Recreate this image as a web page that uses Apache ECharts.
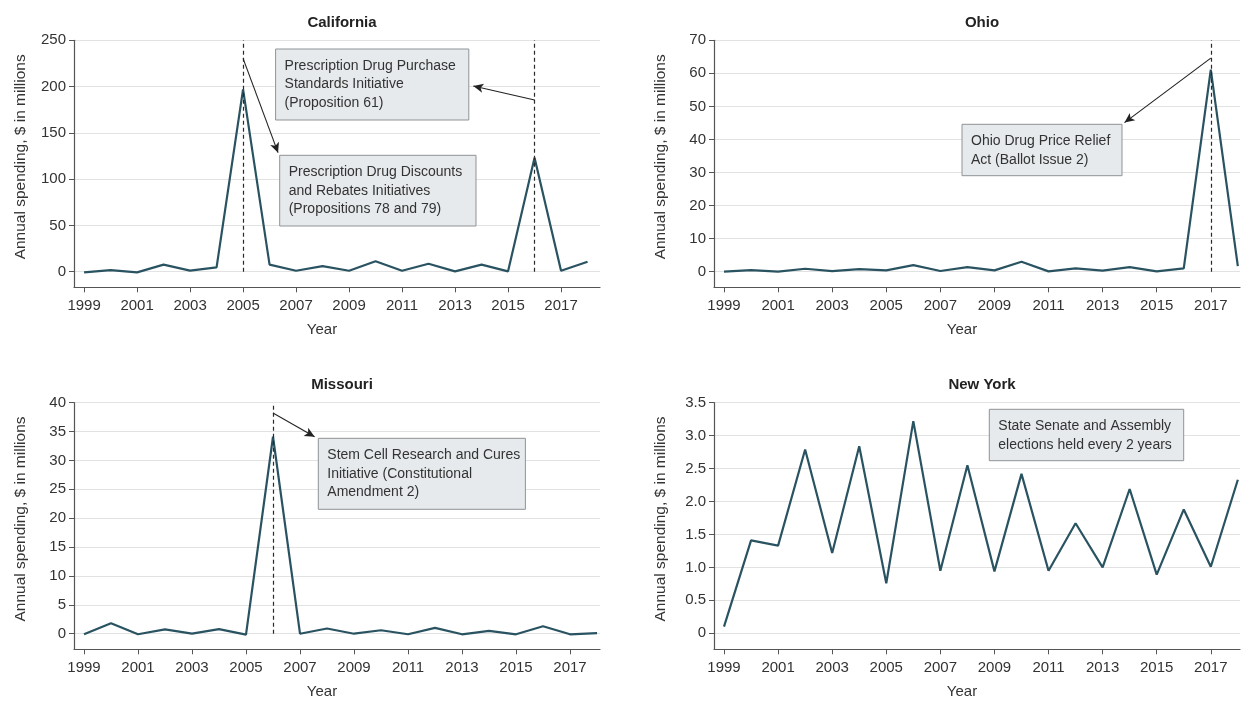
<!DOCTYPE html>
<html>
<head>
<meta charset="utf-8">
<script src="https://cdn.jsdelivr.net/npm/echarts@6.0.0/dist/echarts.min.js"></script>
<style>
  html, body { margin: 0; padding: 0; background: #fff; }
  #chart { width: 1248px; height: 702px; }
</style>
</head>
<body>
<div id="chart"></div>
<script>
// data
const years = [1999, 2000, 2001, 2002, 2003, 2004, 2005, 2006, 2007, 2008, 2009, 2010, 2011, 2012, 2013, 2014, 2015, 2016, 2017, 2018];
const yearTicks = [1999, 2001, 2003, 2005, 2007, 2009, 2011, 2013, 2015, 2017];

const californiaSpending = [-0.7, 1.8, -0.7, 7.6, 1.1, 4.7, 197, 7.6, 1.0, 6.1, 1.0, 11.2, 1.0, 8.6, 0.4, 7.6, 0.4, 123.2, 1.0, 10.8];
const ohioSpending = [0, 0.5, 0, 0.9, 0.2, 0.8, 0.4, 2.0, 0.2, 1.4, 0.4, 3.0, 0.1, 1.0, 0.3, 1.4, 0.1, 1.0, 61.1, 1.7];
const missouriSpending = [-0.1, 1.8, -0.1, 0.75, 0, 0.8, -0.15, 34.1, 0, 0.9, 0, 0.6, -0.1, 1.0, -0.1, 0.5, -0.1, 1.3, -0.1, 0.1];
const newYorkSpending = [0.1, 1.41, 1.33, 2.79, 1.22, 2.84, 0.76, 3.22, 0.95, 2.55, 0.94, 2.42, 0.95, 1.67, 1.0, 2.19, 0.89, 1.88, 1.01, 2.33];

const californiaTicks = [0, 50, 100, 150, 200, 250];
const ohioTicks = [0, 10, 20, 30, 40, 50, 60, 70];
const missouriTicks = [0, 5, 10, 15, 20, 25, 30, 35, 40];
const newYorkTicks = [0, 0.5, 1.0, 1.5, 2.0, 2.5, 3.0, 3.5];

// ballot years (dashed lines) and arrows [fromYear, fromValue, toYear, toValue]
const californiaBallots = [2005, 2016];
const ohioBallots = [2017];
const missouriBallots = [2006];
const californiaArrows = [[2005, 230.5, 2006.32, 128.6], [2016, 185.5, 2013.69, 200.6]];
const ohioArrows = [[2017, 64.6, 2013.81, 45.1]];
const missouriArrows = [[2006, 38.2, 2007.54, 34.1]];

const FONT = '"Liberation Sans", Arial, sans-serif';
const LINE_COLOR = '#2a5362';
const AXIS_COLOR = '#555';
const TEXT_COLOR = '#333';

const chart = echarts.init(document.getElementById('chart'));

const panels = [
    { title: 'California', left: 74, top: 40.3, height: 247, xMin: 1998.62, xMax: 2018.47, yMin: -16.85, yMax: 250, ticks: californiaTicks, values: californiaSpending, ballots: californiaBallots, arrows: californiaArrows, fmt: v => String(v) },
    { title: 'Ohio', left: 714, top: 40.3, height: 247, xMin: 1998.63, xMax: 2018.08, yMin: -4.72, yMax: 70, ticks: ohioTicks, values: ohioSpending, ballots: ohioBallots, arrows: ohioArrows, fmt: v => String(v) },
    { title: 'Missouri', left: 74, top: 402.7, height: 246.6, xMin: 1998.63, xMax: 2018.11, yMin: -2.7, yMax: 40, ticks: missouriTicks, values: missouriSpending, ballots: missouriBallots, arrows: missouriArrows, fmt: v => String(v) },
    { title: 'New York', left: 714, top: 402.7, height: 246.6, xMin: 1998.63, xMax: 2018.08, yMin: -0.243, yMax: 3.5, ticks: newYorkTicks, values: newYorkSpending, ballots: [], arrows: [], fmt: v => (v === 0 ? '0' : v.toFixed(1)) },
];

const grids = [], xAxes = [], yAxes = [], series = [], titles = [];

panels.forEach((p, i) => {
    grids.push({ left: p.left, top: p.top, width: 526, height: p.height });
    titles.push({
        text: p.title,
        left: p.left + 263,
        top: p.top - 30,
        textAlign: 'center',
        textStyle: { fontFamily: FONT, fontSize: 15, fontWeight: 'bold', color: '#222' },
    });
    xAxes.push({
        type: 'value',
        gridIndex: i,
        min: p.xMin,
        max: p.xMax,
        name: 'Year',
        nameLocation: 'middle',
        nameGap: 35,
        nameTextStyle: { fontFamily: FONT, fontSize: 15, color: TEXT_COLOR, padding: [0, 30, 0, 0] },
        axisLine: { show: true, onZero: false, lineStyle: { color: AXIS_COLOR, width: 1.2 } },
        axisTick: { show: true, length: 5, customValues: yearTicks, lineStyle: { color: AXIS_COLOR } },
        axisLabel: { customValues: yearTicks, margin: 11, fontFamily: FONT, fontSize: 15, color: TEXT_COLOR, formatter: v => String(v) },
        splitLine: { show: false },
    });
    yAxes.push({
        type: 'value',
        gridIndex: i,
        min: p.yMin,
        max: p.yMax,
        name: 'Annual spending, $ in millions',
        nameLocation: 'middle',
        nameGap: 45,
        nameTextStyle: { fontFamily: FONT, fontSize: 15.5, color: TEXT_COLOR, padding: [0, 0, 0, 14] },
        axisLine: { show: true, onZero: false, lineStyle: { color: AXIS_COLOR, width: 1.2 } },
        axisTick: { show: true, length: 5, customValues: p.ticks, lineStyle: { color: AXIS_COLOR } },
        axisLabel: { customValues: p.ticks, margin: 8, fontFamily: FONT, fontSize: 15, color: TEXT_COLOR, formatter: p.fmt },
        splitLine: { show: true, lineStyle: { color: '#e2e2e2', width: 1 } },
    });

    const markData = [];
    p.ballots.forEach(y => {
        markData.push([
            { coord: [y, 0], symbol: 'none', lineStyle: { type: [4, 3], color: '#2a2a2a', width: 1.2 } },
            { coord: [y, p.yMax], symbol: 'none' },
        ]);
    });
    p.arrows.forEach(a => {
        markData.push([
            { coord: [a[0], a[1]], symbol: 'none', lineStyle: { type: 'solid', color: '#222', width: 1.1 } },
            { coord: [a[2], a[3]], symbol: 'arrow', symbolSize: [7, 10] },
        ]);
    });

    series.push({
        type: 'line',
        xAxisIndex: i,
        yAxisIndex: i,
        data: years.map((y, k) => [y, p.values[k]]),
        showSymbol: false,
        lineStyle: { color: LINE_COLOR, width: 2.2 },
        itemStyle: { color: LINE_COLOR },
        animation: false,
        z: 3,
        markLine: {
            silent: true,
            animation: false,
            symbol: ['none', 'none'],
            label: { show: false },
            emphasis: { disabled: true },
            data: markData,
        },
    });
});

// annotation boxes, drawn above the grid lines
function box(x, y, w, h, text) {
    return [
        { type: 'rect', silent: true, z: 100, shape: { x: x, y: y, width: w, height: h }, style: { fill: '#e6eaec', stroke: '#8f9396', lineWidth: 1 } },
        { type: 'text', silent: true, z: 101, x: x + 9, y: y + 8, style: { text: text, font: '14px ' + FONT, fill: TEXT_COLOR, lineHeight: 18.3 } },
    ];
}

const option = {
    backgroundColor: '#fff',
    animation: false,
    title: titles,
    grid: grids,
    xAxis: xAxes,
    yAxis: yAxes,
    series: series,
    graphic: [].concat(
        box(275.6, 49, 193.2, 71, 'Prescription Drug Purchase\nStandards Initiative\n(Proposition 61)'),
        box(279.7, 155.3, 196.3, 70.7, 'Prescription Drug Discounts\nand Rebates Initiatives\n(Propositions 78 and 79)'),
        box(962, 124.3, 160, 51.4, 'Ohio Drug Price Relief\nAct (Ballot Issue 2)'),
        box(318.3, 438.3, 207.1, 71, 'Stem Cell Research and Cures\nInitiative (Constitutional\nAmendment 2)'),
        box(989.3, 409.3, 194.4, 51.4, 'State Senate and Assembly\nelections held every 2 years')
    ),
};

chart.setOption(option);
</script>
</body>
</html>
